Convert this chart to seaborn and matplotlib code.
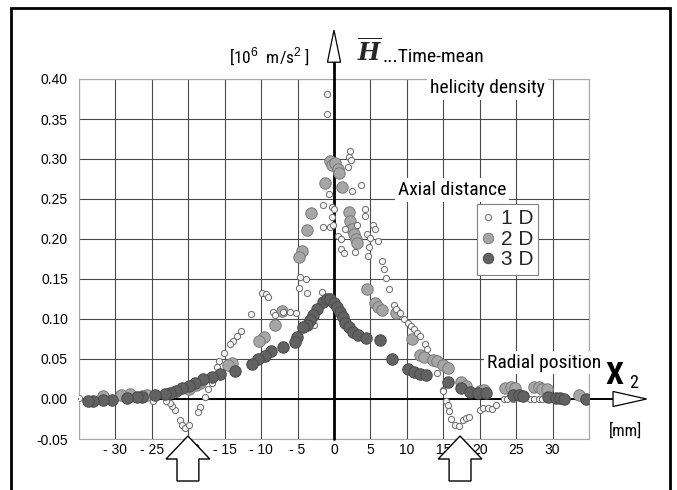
import numpy as np
import pandas as pd
import matplotlib
matplotlib.use("Agg")
import matplotlib.pyplot as plt
import matplotlib.transforms as mtrans
from matplotlib import font_manager
from matplotlib.patches import Polygon, Rectangle
from matplotlib.lines import Line2D
import seaborn as sns

# ---------------- data ----------------
x_1d = [-1.0, -1.0, 2.2, 2.1, 2.4, 1.9, 3.75, 2.5, -0.7,
        -1.5, -0.3, 0.05, -0.3, 4.2, 4.3, -1.5, -0.5, -0.2, 3.2, 5.4, 5.6, 0.6, 0.9,
        4.5, 5.0, 6.0, 1.0, 1.4, 2.9, 4.85, 4.6, 6.6, 6.9, 7.1, 7.5, 1.5,
        -4.6, -3.9, -4.8, -3.75, -1.7, -2.7,
        -9.9, -9.4, -9.1, -11.4, -8.4, -8.1, -7.0, -6.0, -5.2,
        -12.8, -13.3, -13.9, -14.3, -15.1, -15.75, -16.1, -16.8, -17.25, -17.7,
        -18.4, -18.7, -21.15, -20.8, -20.5, -19.9, -21.8, -22.2, -22.5, -23.0, -24.9, -35.0,
        8.3, 8.5, 9.1, 9.6, 10.1, 10.6, 11.0, 11.45, 11.8, 12.5, 12.7, 14.1, 15.0, 14.9,
        15.4, 15.6, 15.8, 16.1, 16.6, 17.1, 17.7, 18.1, 18.5, 20.0, 20.4, 21.2, 21.75, 22.2,
        23.4, 23.7, 24.6, 26.9, 27.5, 28.1, 28.5]
y_1d = [0.381, 0.356, 0.310, 0.303, 0.299, 0.290, 0.267, 0.260, 0.256,
        0.242, 0.240, 0.238, 0.228, 0.2375, 0.229, 0.215, 0.2145, 0.2175, 0.217, 0.2175, 0.213, 0.204, 0.200,
        0.206, 0.2017, 0.1975, 0.188, 0.182, 0.184, 0.190, 0.179, 0.1725, 0.162, 0.151, 0.1375, 0.212,
        0.152, 0.1496, 0.139, 0.133, 0.134, 0.0925,
        0.132, 0.131, 0.127, 0.106, 0.109, 0.105, 0.109, 0.109, 0.107,
        0.085, 0.079, 0.0725, 0.069, 0.057, 0.048, 0.040, 0.020, 0.013, 0.003,
        -0.0096, -0.016, -0.026, -0.033, -0.036, -0.033, -0.014, -0.009, -0.005, -0.003, -0.003, 0.001,
        0.1175, 0.113, 0.108, 0.100, 0.0945, 0.0916, 0.0875, 0.083, 0.079, 0.069, 0.063, 0.033, 0.011, 0.0104,
        -0.003, -0.008, -0.0146, -0.025, -0.0325, -0.034, -0.026, -0.024, -0.022, -0.0135, -0.0117, -0.0117, -0.013, -0.008,
        0.0, 0.0, 0.0, 0.0, 0.0, 0.0, 0.0]

x_2d = [-0.55, -0.3, 0.14, 0.5, 0.7, -1.25, 1.05,
        -3.15, -3.75, -4.35, -4.8,
        2.0, 2.25, 2.45, 2.75, 3.0, 3.2,
        4.5, 5.6, 6.0, 6.6, 8.5,
        -7.2, -8.1, -9.6, -10.25,
        -14.0, -14.5, -18.4, -18.9, -19.9,
        -25.7, -26.4, -27.8, -28.0, -29.2, -31.7,
        10.7, 11.8, 12.3, 13.6, 14.1, 15.0, 15.7, 17.4, 18.1, 20.1, 20.6,
        23.5, 24.3, 24.9, 27.5, 28.1, 28.5, 29.2, 33.6]
y_2d = [0.297, 0.2925, 0.2946, 0.288, 0.283, 0.2696, 0.2654,
        0.232, 0.211, 0.185, 0.177,
        0.234, 0.222, 0.212, 0.206, 0.200, 0.195,
        0.138, 0.120, 0.115, 0.111, 0.108,
        0.110, 0.0925, 0.078, 0.072,
        0.045, 0.0425, 0.0196, 0.0175, 0.012,
        0.005, 0.004, 0.004, 0.006, 0.005, 0.004,
        0.0746, 0.055, 0.053, 0.049, 0.047, 0.0425, 0.039, 0.021, 0.0165, 0.0104, 0.0115,
        0.0134, 0.0145, 0.0134, 0.0146, 0.0146, 0.0125, 0.012, 0.0055]

x_3d = [-1.45, -1.0, -0.55, 0.05, 0.4, 0.8, 1.2, 1.5, 2.0, 2.65, 3.3, 4.4, 6.3,
        -2.4, -2.85, -3.3, -3.75, -4.2, -5.1, -5.35, -6.95,
        -8.6, -9.5, -10.4, -11.3, -13.6, -15.7, -16.7, -18.0, -19.1, -19.9, -20.8, -21.7,
        -22.5, -23.2, -24.6, -26.3, -27.1, -28.4, -30.5, -31.7, -33.1, -33.7,
        7.9, 10.2, 11.0, 11.8, 12.65, 15.65, 17.45, 18.7, 19.8, 20.8,
        24.6, 25.35, 26.0, 29.4, 30.5, 31.0, 31.6, 34.6]
y_3d = [0.1217, 0.1246, 0.1246, 0.120, 0.115, 0.109, 0.102, 0.0946, 0.090, 0.084, 0.080, 0.076, 0.074,
        0.113, 0.105, 0.099, 0.0925, 0.090, 0.078, 0.0717, 0.0646,
        0.060, 0.054, 0.0496, 0.044, 0.035, 0.031, 0.027, 0.0246, 0.0196, 0.0167, 0.0134, 0.0094,
        0.0075, 0.006, 0.0045, 0.003, 0.002, 0.001, -0.001, -0.001, -0.002, -0.002,
        0.050, 0.0375, 0.034, 0.0315, 0.0295, 0.0217, 0.0137, 0.009, 0.008, 0.008,
        0.0045, 0.0045, 0.0035, 0.002, 0.0015, 0.001, 0.0005, 0.0]

series_labels = ["1 D", "2 D", "3 D"]
x_ticks = [-35, -30, -25, -20, -15, -10, -5, 0, 5, 10, 15, 20, 25, 30, 35]
x_tick_labels = ["", "- 30", "- 25", "- 20", "- 15", "- 10", "- 5", "0", "5", "10", "15", "20", "25", "30", ""]
y_ticks = [-0.05, 0.0, 0.05, 0.10, 0.15, 0.20, 0.25, 0.30, 0.35, 0.40]
y_tick_labels = ["-0.05", "0.00", "0.05", "0.10", "0.15", "0.20", "0.25", "0.30", "0.35", "0.40"]
arrow_marks = [-20.05, 17.3]

# ---------------- style ----------------
sns.set_theme(style="white")
names = {f.name for f in font_manager.fontManager.ttflist}
narrow = next((n for n in ["Liberation Sans Narrow", "DejaVu Sans Condensed", "Roboto Condensed"]
               if n in names), "DejaVu Sans")
plt.rcParams["font.family"] = ["Liberation Sans", "DejaVu Sans"]
plt.rcParams["mathtext.fontset"] = "custom"
plt.rcParams["mathtext.bf"] = "DejaVu Serif:italic:bold"
plt.rcParams["mathtext.rm"] = "Liberation Sans"

fig = plt.figure(figsize=(6.77, 4.90), dpi=100)
fig.patch.set_facecolor("white")
ax = fig.add_axes([79 / 677, 1 - 439 / 490, 510 / 677, 360 / 490])
ax.set_facecolor("white")

df = pd.concat([
    pd.DataFrame({"x": x_1d, "y": y_1d, "s": series_labels[0]}),
    pd.DataFrame({"x": x_2d, "y": y_2d, "s": series_labels[1]}),
    pd.DataFrame({"x": x_3d, "y": y_3d, "s": series_labels[2]}),
])

styles = {
    "1 D": dict(s=20, color="#f4f4f4", edgecolor="#6a6a6a", linewidth=0.7),
    "2 D": dict(s=68, color="#a6a6a6", edgecolor="#7a7a7a", linewidth=0.7),
    "3 D": dict(s=68, color="#626262", edgecolor="#4a4a4a", linewidth=0.7),
}
for lab in ["2 D", "1 D", "3 D"]:
    sub = df[df["s"] == lab]
    sns.scatterplot(data=sub, x="x", y="y", ax=ax, legend=False, zorder=4, **styles[lab])

ax.set_xlim(-35, 35)
ax.set_ylim(-0.05, 0.40)
ax.set_xticks(x_ticks)
ax.set_xticklabels(x_tick_labels, fontsize=10)
ax.set_yticks(y_ticks)
ax.set_yticklabels(y_tick_labels, fontsize=10)
ax.tick_params(axis="both", length=0, colors="black")
ax.tick_params(axis="y", pad=8)
ax.tick_params(axis="x", pad=3)
ax.set_xlabel("")
ax.set_ylabel("")
ax.grid(True, color="#4a4a4a", linewidth=0.8, zorder=0)
ax.set_axisbelow(True)
for sp in ax.spines.values():
    sp.set_color("#a8a8a8")
    sp.set_linewidth(0.8)

# main axes with open arrow heads
ax.plot([0, 0], [-0.05, 0.421], color="black", lw=2.0, clip_on=False, zorder=3)
ax.add_patch(Polygon([(-0.9, 0.421), (0.9, 0.421), (0, 0.461)], closed=True,
                     facecolor="white", edgecolor="black", lw=0.9, clip_on=False, zorder=3))
ax.plot([-35, 38.3], [0, 0], color="black", lw=1.4, clip_on=False, zorder=3)
ax.add_patch(Polygon([(38.3, -0.0094), (38.3, 0.0094), (42.9, 0)], closed=True,
                     facecolor="white", edgecolor="black", lw=0.9, clip_on=False, zorder=3))

# texts
tkw = dict(family=[narrow, "DejaVu Sans"], color="black")
ax.text(-3.3, 0.4275, r"[10$^6$  m/s$^2$ ]", ha="right", va="center", fontsize=12.5,
        clip_on=False, **tkw)
ax.text(3.1, 0.433, r"$\overline{\mathbf{H}}$", ha="left", va="center", fontsize=17,
        clip_on=False)
ax.text(6.7, 0.428, "...Time-mean", ha="left", va="center", fontsize=14, clip_on=False, **tkw)
ax.text(13.2, 0.389, "helicity density", ha="left", va="center", fontsize=14, zorder=5,
        bbox=dict(facecolor="white", edgecolor="none", pad=2), **tkw)
ax.text(8.8, 0.261, "Axial distance", ha="left", va="center", fontsize=14, zorder=5,
        bbox=dict(facecolor="white", edgecolor="none", pad=2), **tkw)
ax.text(21.0, 0.0455, "Radial position", ha="left", va="center", fontsize=14, zorder=5,
        bbox=dict(facecolor="white", edgecolor="none", pad=2), **tkw)
ax.text(37.3, 0.030, "X", ha="left", va="center", fontsize=23, fontweight="bold",
        clip_on=False, **tkw)
ax.text(40.5, 0.020, "2", ha="left", va="center", fontsize=13, clip_on=False, **tkw)
ax.text(40.0, -0.039, "[mm]", ha="center", va="center", fontsize=12, clip_on=False, **tkw)

# legend
handles = [
    Line2D([], [], ls="none", marker="o", markersize=4.5, markerfacecolor="#f4f4f4",
           markeredgecolor="#6a6a6a", markeredgewidth=0.7),
    Line2D([], [], ls="none", marker="o", markersize=7.5, markerfacecolor="#a6a6a6",
           markeredgecolor="#7a7a7a", markeredgewidth=0.7),
    Line2D([], [], ls="none", marker="o", markersize=7.5, markerfacecolor="#626262",
           markeredgecolor="#4a4a4a", markeredgewidth=0.7),
]
leg = ax.legend(handles, series_labels, loc="upper left", bbox_to_anchor=(0.780, 0.653),
                frameon=True, fancybox=False, framealpha=1, edgecolor="#808080",
                fontsize=15, handlelength=0.6, handletextpad=0.3, borderpad=0.25,
                labelspacing=0.08, borderaxespad=0)
leg.get_frame().set_linewidth(0.8)
leg.set_zorder(6)

# block arrows under the axis
btr = mtrans.blended_transform_factory(ax.transData, fig.transFigure)
for xm in arrow_marks:
    tip, hb, bot = 1 - 436 / 490, 1 - 459 / 490, 1 - 481 / 490
    pts = [(xm, tip), (xm + 3.0, hb), (xm + 1.5, hb), (xm + 1.5, bot),
           (xm - 1.5, bot), (xm - 1.5, hb), (xm - 3.0, hb)]
    fig.add_artist(Polygon(pts, closed=True, facecolor="white", edgecolor="black", lw=1.0,
                           transform=btr, clip_on=False, zorder=7))

# outer frame
fig.add_artist(Rectangle((11 / 677, -0.05), (670 - 11) / 677, 1.05 - 8 / 490, fill=False,
                         edgecolor="black", lw=2.0, transform=fig.transFigure))

fig.savefig("out.png", dpi=100, facecolor="white")
